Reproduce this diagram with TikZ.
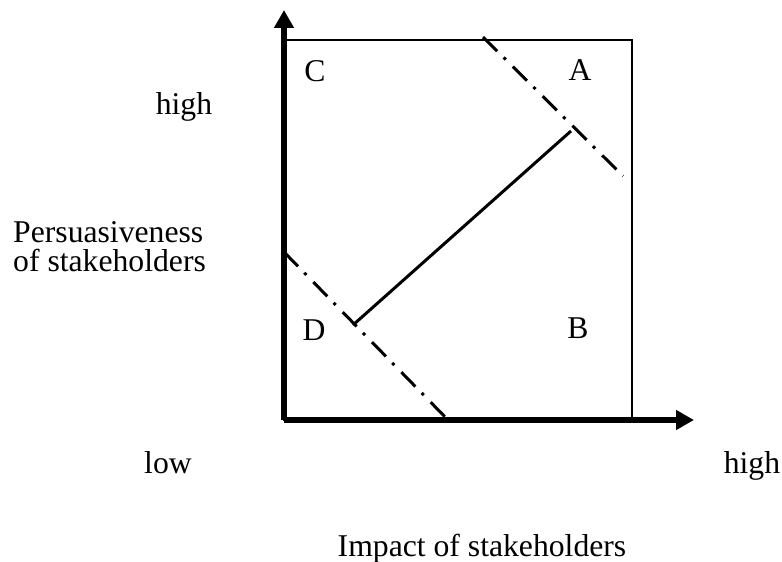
\documentclass[tikz,border=0pt]{standalone}
\usepackage{fontspec}
\setmainfont{Liberation Serif}
\usetikzlibrary{arrows.meta}
\begin{document}
\begin{tikzpicture}[x=1bp,y=-1bp,
  lbl/.style={anchor=base,inner sep=0pt,font=\fontsize{31.8}{30}\selectfont},
  axis/.style={line width=6bp,-{Triangle[width=19bp,length=18bp]}},
  frame/.style={line width=2.6bp},
  dashdot/.style={line width=3bp,dash pattern=on 20bp off 9bp on 3bp off 10bp},
  solidline/.style={line width=3bp}]
\useasboundingbox (0,0) rectangle (782,562);
\coordinate (O) at (284,420);
\coordinate (Ytop) at (284,10);
\coordinate (Xend) at (694,420);
\coordinate (TL) at (284,40);
\coordinate (BR) at (632,420);
\draw[frame] (TL) rectangle (BR);
\draw[axis] (O) -- (Ytop);
\draw[axis] (O) -- (Xend);
\coordinate (d1a) at (483,37);
\coordinate (d1b) at (623,176);
\draw[dashdot] (d1a) -- (d1b);
\coordinate (d2a) at (284,252);
\coordinate (d2b) at (449,421);
\draw[dashdot] (d2a) -- (d2b);
\coordinate (s1) at (353,325);
\coordinate (s2) at (571,131);
\draw[solidline] (s1) -- (s2);
\node[lbl] (C) at (315,82) {C};
\node[lbl] (A) at (580,81) {A};
\node[lbl] (D) at (314,340) {D};
\node[lbl] (B) at (578,338) {B};
\node[lbl] (yhigh) at (184,115) {high};
\node[lbl,anchor=base west,align=left] (pers) at (13,272) {Persuasiveness\\of stakeholders};
\node[lbl] (low) at (168,473) {low};
\node[lbl] (xhigh) at (752,473) {high};
\node[lbl] (imp) at (482,556) {Impact of stakeholders};
\end{tikzpicture}
\end{document}
